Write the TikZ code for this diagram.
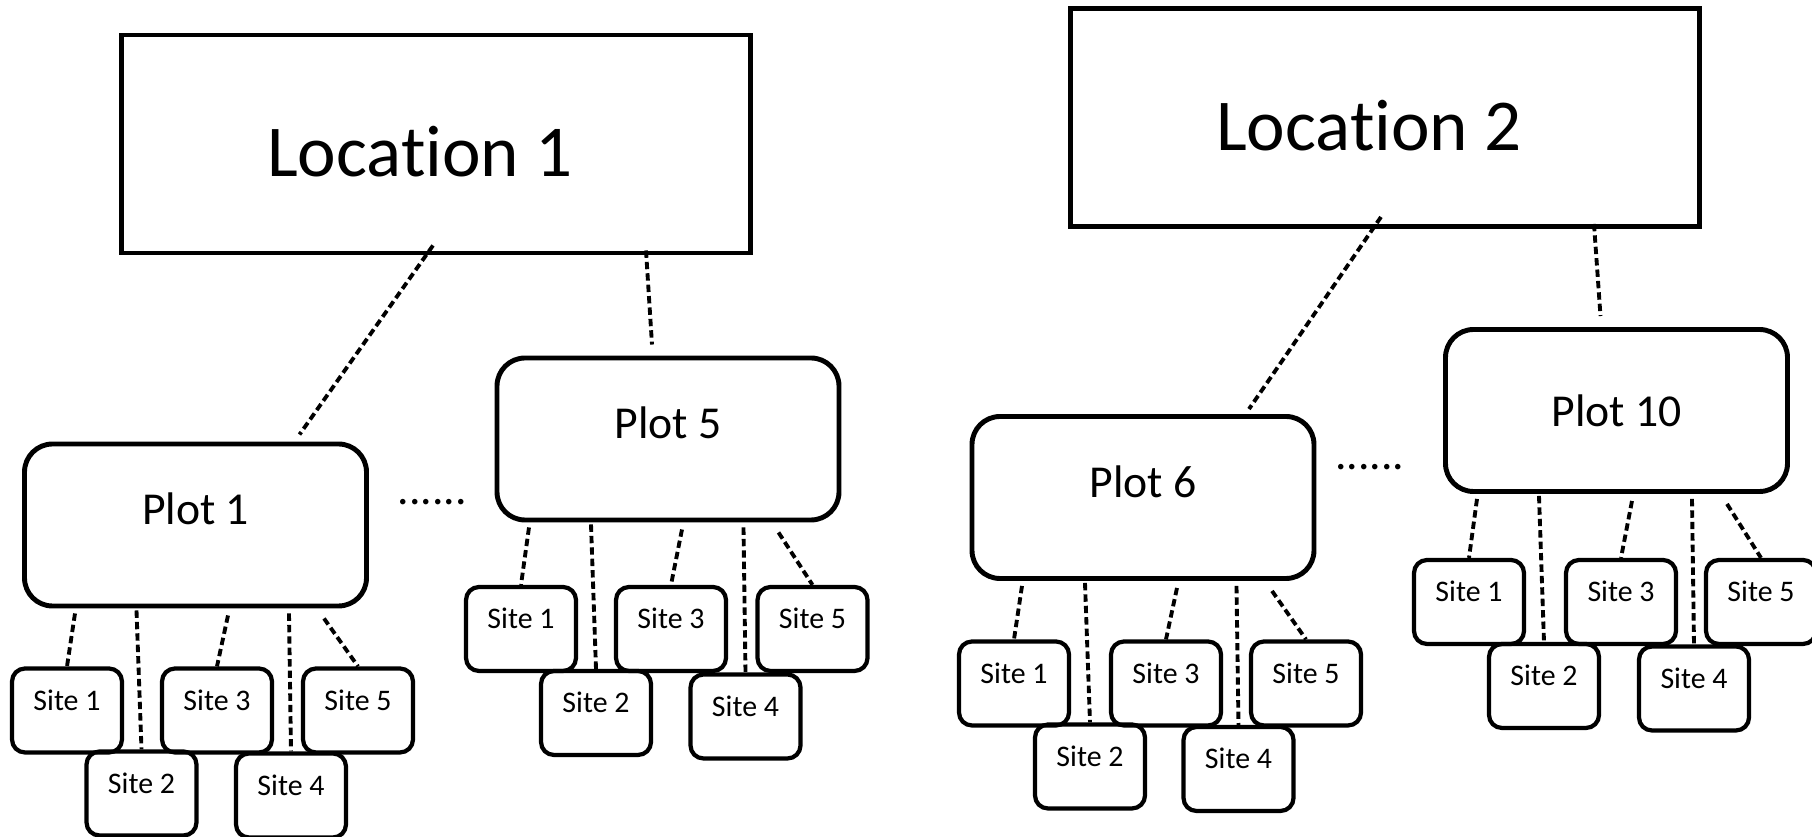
\documentclass[tikz,border=0pt]{standalone}
\usepackage{fontspec}
\setmainfont{Carlito}[Ligatures=NoCommon]
\usetikzlibrary{calc}

\begin{document}
\begin{tikzpicture}[
    location/.style={draw, line width=1.4pt, minimum width=6.29cm, minimum height=2.18cm, inner sep=0pt,
      font=\fontsize{20.8}{24}\selectfont, text height=0.66cm, text depth=0cm,
      execute at begin node={\hspace*{-0.32cm}}},
    plot/.style={draw, line width=1.4pt, rounded corners=0.28cm, minimum width=3.42cm, minimum height=1.62cm,
      inner sep=0pt, font=\fontsize{13}{15}\selectfont, text height=0.33cm, text depth=0.33cm},
    site/.style={draw, line width=1.2pt, rounded corners=0.13cm, minimum width=1.10cm, minimum height=0.84cm,
      inner sep=0pt, font=\fontsize{8.5}{10}\selectfont, text height=0.22cm, text depth=0.22cm},
    link/.style={line width=1.1pt, dash pattern=on 2.1pt off 1.15pt},
    dots/.style={inner sep=0pt, font=\fontsize{13}{15}\selectfont}
  ]
    \useasboundingbox (0,0) rectangle (18.12,8.37);

    \node[location] (loc1) at (4.36,6.93) {Location 1};
    \node[location] (loc2) at (13.85,7.195) {Location 2};

    \node[plot] (plot1) at (1.955,3.12) {Plot 1};
    \node[plot] (plot5) at (6.68,3.98) {Plot 5};
    \node[plot] (plot6) at (11.43,3.395) {Plot 6};
    \node[plot, text depth=0cm] (plot10) at (16.165,4.265) {Plot 10};

    \node[dots] (gap1) at (4.325,3.35) {......};
    \node[dots] (gap2) at (13.70,3.70) {......};

    \node[site] (p1s1) at (0.67,1.265) {Site 1};
    \node[site] (p1s2) at (1.415,0.435) {Site 2};
    \node[site] (p1s3) at (2.17,1.265) {Site 3};
    \node[site] (p1s4) at (2.91,0.415) {Site 4};
    \node[site] (p1s5) at (3.58,1.265) {Site 5};

    \node[site] (p5s1) at (5.21,2.08) {Site 1};
    \node[site] (p5s2) at (5.96,1.24) {Site 2};
    \node[site] (p5s3) at (6.71,2.08) {Site 3};
    \node[site] (p5s4) at (7.455,1.205) {Site 4};
    \node[site] (p5s5) at (8.125,2.08) {Site 5};

    \node[site] (p6s1) at (10.14,1.535) {Site 1};
    \node[site] (p6s2) at (10.90,0.705) {Site 2};
    \node[site] (p6s3) at (11.66,1.535) {Site 3};
    \node[site] (p6s4) at (12.385,0.68) {Site 4};
    \node[site] (p6s5) at (13.06,1.535) {Site 5};

    \node[site] (p10s1) at (14.69,2.35) {Site 1};
    \node[site] (p10s2) at (15.44,1.51) {Site 2};
    \node[site] (p10s3) at (16.21,2.35) {Site 3};
    \node[site] (p10s4) at (16.94,1.485) {Site 4};
    \node[site] (p10s5) at (17.61,2.35) {Site 5};

    \draw[link] ($(loc1.south)+(-0.03,0.10)$) -- ($(plot1.north)+(1.04,0.07)$);
    \draw[link] ($(loc1.south)+(2.10,0.05)$) -- ($(plot5.north)+(-0.16,0.11)$);
    \draw[link] ($(loc2.south)+(-0.04,0.12)$) -- ($(plot6.north)+(1.06,0.05)$);
    \draw[link] ($(loc2.south)+(2.09,0.05)$) -- ($(plot10.north)+(-0.16,0.11)$);

    \draw[link] ($(plot1.south -| p1s1.north)+(0.08,-0.05)$) -- (p1s1.north);
    \draw[link] ($(plot1.south -| p1s2.north)+(-0.05,-0.02)$) -- (p1s2.north);
    \draw[link] ($(plot1.south -| p1s3.north)+(0.11,-0.07)$) -- (p1s3.north);
    \draw[link] ($(plot1.south -| p1s4.north)+(-0.02,-0.05)$) -- (p1s4.north);
    \draw[link] ($(plot1.south -| p1s5.north)+(-0.34,-0.10)$) -- (p1s5.north);

    \draw[link] ($(plot5.south -| p5s1.north)+(0.08,-0.05)$) -- (p5s1.north);
    \draw[link] ($(plot5.south -| p5s2.north)+(-0.05,-0.02)$) -- (p5s2.north);
    \draw[link] ($(plot5.south -| p5s3.north)+(0.11,-0.07)$) -- (p5s3.north);
    \draw[link] ($(plot5.south -| p5s4.north)+(-0.02,-0.05)$) -- (p5s4.north);
    \draw[link] ($(plot5.south -| p5s5.north)+(-0.34,-0.10)$) -- (p5s5.north);

    \draw[link] ($(plot6.south -| p6s1.north)+(0.08,-0.05)$) -- (p6s1.north);
    \draw[link] ($(plot6.south -| p6s2.north)+(-0.05,-0.02)$) -- (p6s2.north);
    \draw[link] ($(plot6.south -| p6s3.north)+(0.11,-0.07)$) -- (p6s3.north);
    \draw[link] ($(plot6.south -| p6s4.north)+(-0.02,-0.05)$) -- (p6s4.north);
    \draw[link] ($(plot6.south -| p6s5.north)+(-0.34,-0.10)$) -- (p6s5.north);

    \draw[link] ($(plot10.south -| p10s1.north)+(0.08,-0.05)$) -- (p10s1.north);
    \draw[link] ($(plot10.south -| p10s2.north)+(-0.05,-0.02)$) -- (p10s2.north);
    \draw[link] ($(plot10.south -| p10s3.north)+(0.11,-0.07)$) -- (p10s3.north);
    \draw[link] ($(plot10.south -| p10s4.north)+(-0.02,-0.05)$) -- (p10s4.north);
    \draw[link] ($(plot10.south -| p10s5.north)+(-0.34,-0.10)$) -- (p10s5.north);
  \end{tikzpicture}
\end{document}
